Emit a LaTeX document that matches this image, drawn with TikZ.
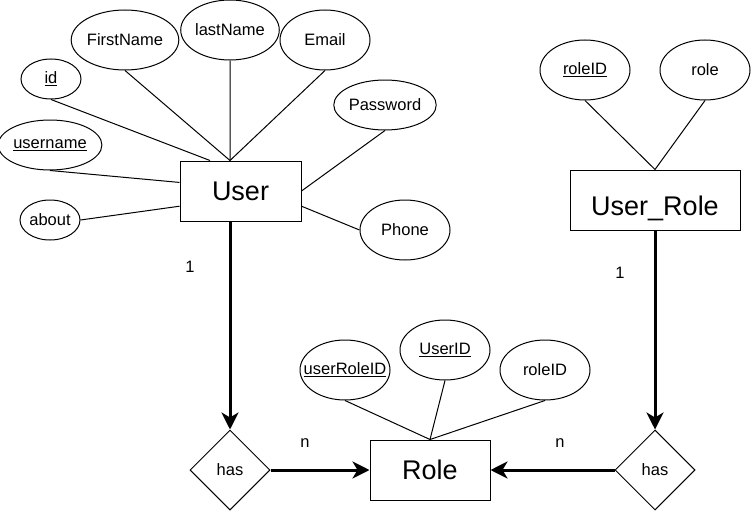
\documentclass[tikz,border=0pt]{standalone}
\usepackage{fontspec}
\setmainfont{Liberation Sans}
\usetikzlibrary{shapes.geometric,arrows.meta}

\begin{document}
\begin{tikzpicture}[x=1pt, y=-1pt, line width=1pt,
    attr/.style={ellipse, draw, inner sep=0pt, minimum width=90pt, minimum height=60pt, font=\fontsize{16.5}{19}\selectfont},
    smallattr/.style={attr, minimum width=60pt, minimum height=40pt},
    entity/.style={rectangle, draw, inner sep=0pt, minimum height=60pt, font=\fontsize{27}{32}\selectfont},
    rel/.style={diamond, draw, inner sep=0pt, minimum width=80pt, minimum height=80pt, font=\fontsize{16.5}{19}\selectfont},
    link/.style={line width=3pt, -{Stealth[length=17pt, width=17pt, inset=5pt]}},
    card/.style={font=\fontsize{16.5}{19}\selectfont}]

    \useasboundingbox (0,0) rectangle (751,511);

    % Entities
    \node[entity, minimum width=121pt] (user) at (240.5,191) {User};
    \node[entity, minimum width=170pt] (userrole) at (655,200) {\raisebox{-15pt}[0pt][0pt]{User\_Role}};
    \node[entity, minimum width=120pt] (role) at (430,470) {Role};

    % Relations
    \node[rel] (hasleft) at (230,470) {has};
    \node[rel] (hasright) at (655,470) {has};

    % User attributes
    \node[smallattr] (id) at (51,79) {\underline{id}};
    \node[attr, minimum width=100pt, minimum height=50pt] (username) at (50,145) {\underline{username}};
    \node[smallattr] (about) at (50,220) {about};
    \node[attr] (firstname) at (125,40) {FirstName};
    \node[attr] (lastname) at (230,30) {lastName};
    \node[attr] (email) at (325,40) {Email};
    \node[attr, minimum height=50pt] (password) at (385,105) {Password};
    \node[attr] (phone) at (405,230) {Phone};

    % User_Role attributes
    \node[attr] (urroleid) at (585,70) {\underline{roleID}};
    \node[attr] (urrole) at (705,70) {role};

    % Role attributes
    \node[attr, inner xsep=-10pt] (userroleid) at (345,370) {\underline{userRoleID}};
    \node[attr] (userid) at (445,350) {\underline{UserID}};
    \node[attr] (roleid) at (545,370) {roleID};

    % Attribute edges
    \draw (id.south) -- (user.135);
    \draw (firstname.south) -- (user.109);
    \draw (lastname.south) -- (user.109);
    \draw (email.south) -- (user.109);
    \draw (username.south) -- (user.172);
    \draw (about.east) -- (user.194);
    \draw (password.south) -- (user.east);
    \draw (phone.west) -- (user.346);
    \draw (urroleid.south) -- (userrole.north);
    \draw (urrole.south) -- (userrole.north);
    \draw (userroleid.south) -- (role.north);
    \draw (userid.south) -- (role.north);
    \draw (roleid.south) -- (role.north);

    % Relationship edges
    \draw[link] (hasleft.north |- user.south) -- (hasleft.north);
    \draw[link] (userrole.south) -- (hasright.north);
    \draw[link] (hasleft.east) -- (role.west);
    \draw[link] (hasright.west) -- (role.east);

    % Cardinalities
    \node[card] (c1) at (190,267) {1};
    \node[card] (c2) at (620,273) {1};
    \node[card] (c3) at (305,443) {n};
    \node[card] (c4) at (560,443) {n};

\end{tikzpicture}
\end{document}
